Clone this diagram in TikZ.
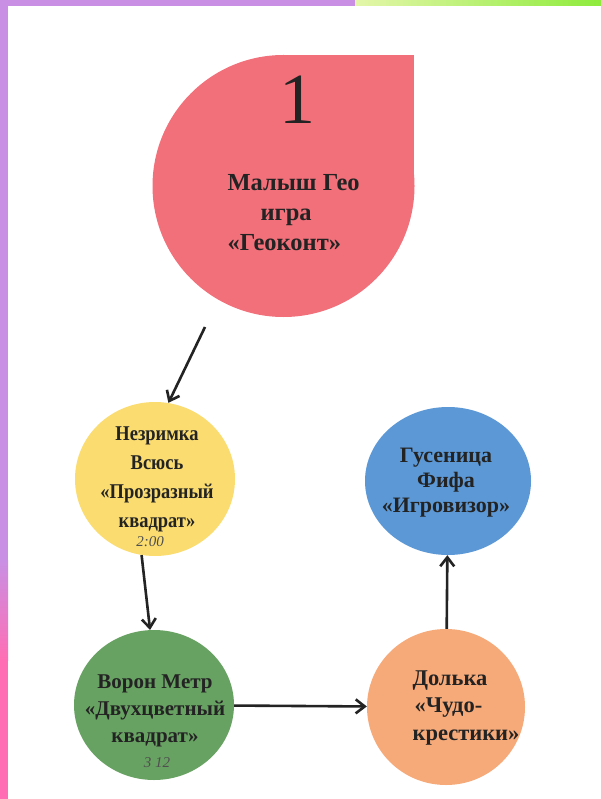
\documentclass[tikz,border=0pt]{standalone}
\usepackage{fontspec}
\setmainfont{Liberation Serif}
\newfontfamily\narrowserif[FakeStretch=0.88]{Liberation Serif}
\usetikzlibrary{shapes.geometric,arrows.meta}

\definecolor{dropred}{RGB}{242,112,122}
\definecolor{sunyel}{RGB}{250,220,112}
\definecolor{skyblue}{RGB}{92,152,214}
\definecolor{leafgrn}{RGB}{104,162,98}
\definecolor{peach}{RGB}{246,170,122}
\definecolor{lilac}{RGB}{201,143,228}
\definecolor{rosepk}{RGB}{255,110,180}
\definecolor{limelt}{RGB}{228,246,170}
\definecolor{limedk}{RGB}{142,235,60}
\definecolor{ink}{RGB}{35,35,35}

\begin{document}
\begin{tikzpicture}[x=1pt,y=-1pt,
  bub/.style={ellipse,minimum width=160pt,minimum height=154pt,inner sep=0pt},
  txt/.style={align=center,text=ink,font=\bfseries\fontsize{21}{27}\selectfont},
  hand/.style={font=\itshape\fontsize{15}{15}\selectfont,text=ink!80},
  arr/.style={-{Straight Barb[length=9pt,width=14pt]},line width=2.6pt,ink}]
% page and border
\useasboundingbox (0,0) rectangle (601,799);
\fill[white] (0,0) rectangle (601,799);
\fill[lilac] (0,0) rectangle (355,6);
\shade[left color=limelt,right color=limedk] (355,0) rectangle (601,6);
\fill[lilac] (0,0) rectangle (8,560);
\shade[top color=lilac,bottom color=rosepk] (0,560) rectangle (8,660);
\fill[rosepk] (0,660) rectangle (8,799);

% start drop
\fill[dropred] (283.5,55) rectangle (414,186);
\node [circle,fill=dropred,minimum size=262pt,inner sep=0pt] (geo) at (283.5,186) {};
\node [font=\fontsize{72}{72}\selectfont,text=ink] (num) at (297,100) {1};
\node [txt,align=left,anchor=west,font=\bfseries\fontsize{24.5}{30}\selectfont] (geotxt) at (224,213)
  {Малыш Гео\\\hspace{33pt}игра\\«Геоконт»};

% stations
\node [bub,fill=sunyel] (nez) at (155,479) {};
\node [txt,font=\narrowserif\bfseries\fontsize{21}{29}\selectfont] (neztxt) at (157,479) {Незримка\\Всюсь\\«Прозразный\\квадрат»};
\node [hand] (neztime) at (150,542) {2:00};

\node [bub,fill=leafgrn,minimum height=150pt] (vor) at (154,705) {};
\node [txt] (vortxt) at (155,711) {Ворон Метр\\«Двухцветный\\квадрат»};
\node [hand] (vortime) at (157,763) {3 12};

\node [bub,fill=peach,minimum width=158pt,minimum height=156pt] (dol) at (446,707) {};
\node [txt,align=left,anchor=west,font=\bfseries\fontsize{22.5}{27.5}\selectfont] (doltxt) at (409,708)
  {Долька\\\hspace{2pt}«Чудо-\\крестики»};

\node [bub,fill=skyblue,minimum width=166pt,minimum height=148pt] (gus) at (448,481) {};
\node [txt,font=\bfseries\fontsize{22}{25}\selectfont] (gustxt) at (446,483) {Гусеница\\Фифа\\«Игровизор»};

% route
\coordinate (geoout) at (205,327);
\draw [arr] (geoout) -- (nez.80);
\draw [arr] (nez.260) -- (vor.93);
\draw [arr] (vor) -- (dol);
\draw [arr] (dol) -- (gus);
\end{tikzpicture}
\end{document}
